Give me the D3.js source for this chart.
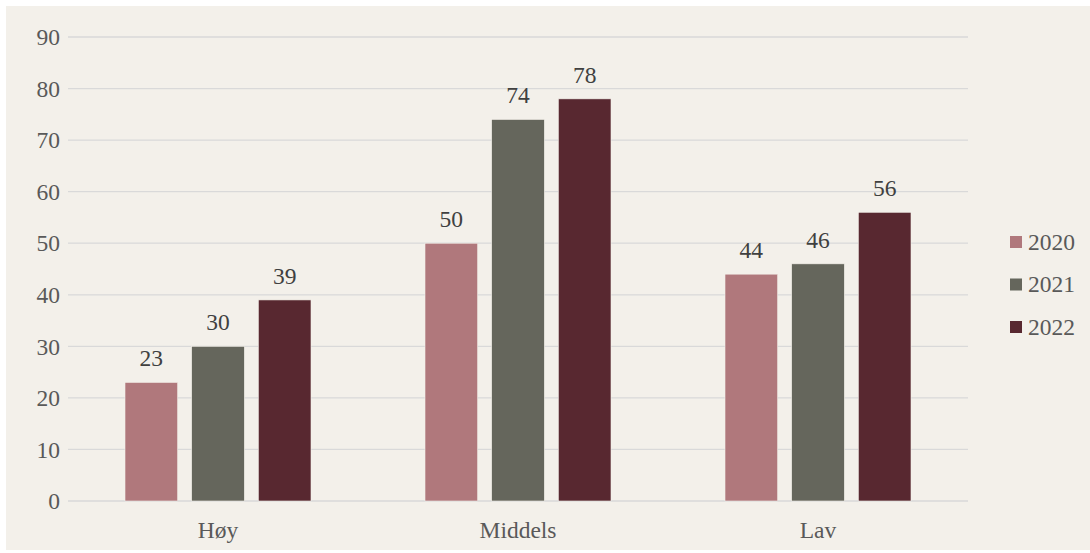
<!DOCTYPE html>
<html>
<head>
<meta charset="utf-8">
<script src="https://cdn.jsdelivr.net/npm/d3@7"></script>
</head>
<body style="margin:0; background:#ffffff">
<svg id="chart" width="1090" height="553" font-family="Liberation Serif"></svg>
<script>
const categories = ["Høy", "Middels", "Lav"];
const seriesNames = ["2020", "2021", "2022"];
const values2020 = [23, 50, 44];
const values2021 = [30, 74, 46];
const values2022 = [39, 78, 56];
const yTicks = [0, 10, 20, 30, 40, 50, 60, 70, 80, 90];
const colors = ["#B0787C", "#65665C", "#582830"];

const seriesValues = [values2020, values2021, values2022];
const svg = d3.select("#chart");
const W = 1090, H = 553;
const font = "Liberation Serif";
const fontSize = 23.5;
const textColor = "#595959";

// chart background panel
svg.append("rect").attr("x", 6).attr("y", 6).attr("width", W - 6).attr("height", H - 9)
  .attr("fill", "#F3F0EA");

const plot = { left: 68, right: 968, top: 37, bottom: 501 };

const x0 = d3.scaleBand().domain(categories).range([plot.left, plot.right]).paddingInner(0).paddingOuter(0);
const x1 = d3.scaleBand().domain(seriesNames).range([57, 243]).paddingInner(0.21).paddingOuter(0);
const y = d3.scaleLinear().domain([0, 90]).range([plot.bottom, plot.top]);

// horizontal gridlines
svg.append("g").selectAll("line").data(yTicks).join("line")
  .attr("x1", plot.left).attr("x2", plot.right)
  .attr("y1", d => y(d)).attr("y2", d => y(d))
  .attr("stroke", "#D9D9D9").attr("stroke-width", 1.3);

// y axis labels
const yAxis = d3.axisLeft(y).tickValues(yTicks).tickSize(0).tickPadding(0);
const yg = svg.append("g").attr("transform", `translate(${plot.left - 8},0)`).call(yAxis);
yg.attr("font-family", font).attr("font-size", fontSize);
yg.select(".domain").remove();
yg.selectAll("text").attr("font-family", font).attr("font-size", fontSize).attr("fill", textColor)
  .attr("dy", "0.33em");

// x axis labels
const xAxis = d3.axisBottom(x0).tickSize(0).tickPadding(0);
const xg = svg.append("g").attr("transform", `translate(0,${plot.bottom})`).call(xAxis);
xg.attr("font-family", font).attr("font-size", fontSize);
xg.select(".domain").remove();
xg.selectAll("text").attr("font-family", font).attr("font-size", fontSize).attr("fill", textColor)
  .attr("y", 37).attr("dy", null);

// bars and value labels
const groups = svg.append("g").selectAll("g").data(categories).join("g")
  .attr("transform", d => `translate(${x0(d)},0)`);

groups.each(function(cat, ci) {
  const g = d3.select(this);
  const rows = seriesNames.map((s, si) => ({ s, si, v: seriesValues[si][ci] }));
  g.selectAll("rect").data(rows).join("rect")
    .attr("x", d => x1(d.s))
    .attr("y", d => y(d.v))
    .attr("width", x1.bandwidth())
    .attr("height", d => y(0) - y(d.v))
    .attr("fill", d => colors[d.si])
    .attr("stroke", "#F3F0EA").attr("stroke-width", 0.6);
  g.selectAll("text").data(rows).join("text")
    .attr("x", d => x1(d.s) + x1.bandwidth() / 2)
    .attr("y", d => y(d.v) - 16)
    .attr("text-anchor", "middle")
    .attr("font-family", font).attr("font-size", fontSize).attr("fill", "#404040")
    .text(d => d.v);
});

// legend
const legend = svg.append("g").selectAll("g").data(seriesNames).join("g")
  .attr("transform", (d, i) => `translate(1010,${242 + i * 42.5})`);
legend.append("rect").attr("x", 0).attr("y", -6).attr("width", 12).attr("height", 12)
  .attr("fill", (d, i) => colors[i]);
legend.append("text").attr("x", 18).attr("y", 0).attr("dy", "0.33em")
  .attr("font-family", font).attr("font-size", fontSize).attr("fill", textColor)
  .text(d => d);
</script>
</body>
</html>
